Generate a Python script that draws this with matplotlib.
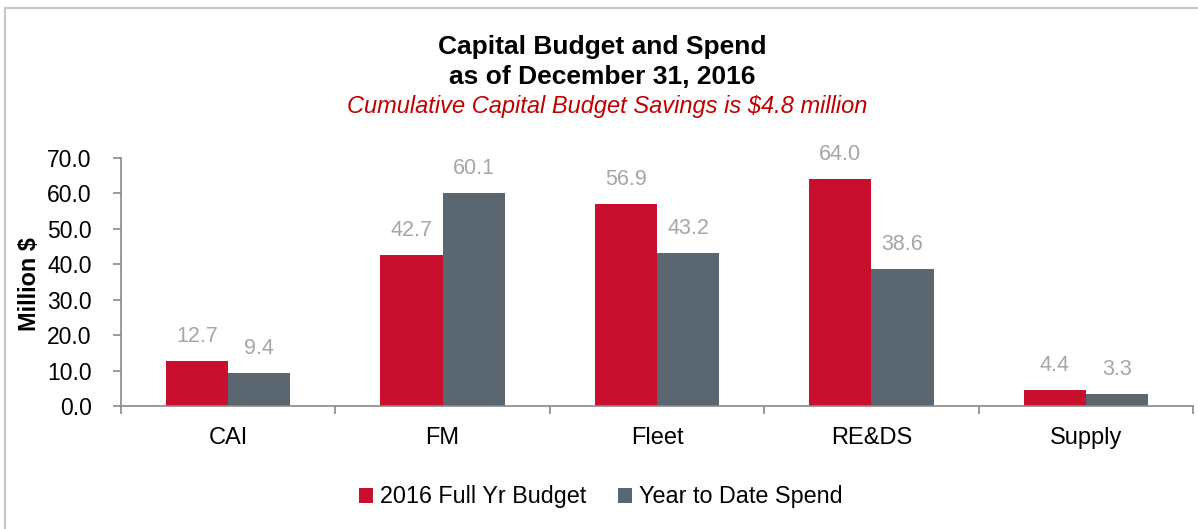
import matplotlib
matplotlib.use("Agg")
import matplotlib.pyplot as plt
import numpy as np
from matplotlib.patches import Rectangle

categories = ["CAI", "FM", "Fleet", "RE&DS", "Supply"]
budget = [12.7, 42.7, 56.9, 64.0, 4.4]
spend = [9.4, 60.1, 43.2, 38.6, 3.3]
series_names = ["2016 Full Yr Budget", "Year to Date Spend"]
yticks = [0, 10, 20, 30, 40, 50, 60, 70]

RED = "#c8102e"
GRAY = "#5a6770"
AXIS = "#898989"
LABEL = "#a6a6a6"

plt.rcParams["font.family"] = ["Liberation Sans", "DejaVu Sans"]

fig = plt.figure(figsize=(11.98, 5.29), dpi=100)
fig.patch.set_facecolor("white")

# outer frame
fig.add_artist(Rectangle((5 / 1198, -0.05), 1.1, 1 - 8 / 529 + 0.05,
                         transform=fig.transFigure, fill=False,
                         edgecolor="#c8c8c8", linewidth=1.6))

ax = fig.add_axes([121 / 1198, 1 - 406 / 529, (1193 - 121) / 1198, (406 - 158) / 529])

x = np.arange(len(categories))
w = 0.29
b1 = ax.bar(x - w / 2, budget, w, color=RED, label=series_names[0])
b2 = ax.bar(x + w / 2, spend, w, color=GRAY, label=series_names[1])

for bars, vals in ((b1, budget), (b2, spend)):
    for r, v in zip(bars, vals):
        ax.text(r.get_x() + r.get_width() / 2, v + 4.0, f"{v:.1f}",
                ha="center", va="bottom", color=LABEL, fontsize=15.5)

ax.set_xlim(-0.5, len(categories) - 0.5)
ax.set_ylim(0, 70)
ax.set_yticks(yticks)
ax.set_yticklabels([f"{t:.1f}" for t in yticks], fontsize=16.5)
ax.set_xticks(x)
ax.set_xticklabels(categories, fontsize=17)
ax.tick_params(axis="x", length=0, pad=15)
ax.tick_params(axis="y", length=6, color=AXIS, width=1.2, pad=15)
ax.set_xticks(np.arange(-0.5, len(categories) + 0.5, 1), minor=True)
ax.tick_params(axis="x", which="minor", length=6, color=AXIS, width=1.2)

for s in ("top", "right"):
    ax.spines[s].set_visible(False)
for s in ("left", "bottom"):
    ax.spines[s].set_color(AXIS)
    ax.spines[s].set_linewidth(1.2)

ax.set_ylabel("Million $", fontsize=16.8, fontweight="bold")
ax.yaxis.set_label_coords(-0.0745, 0.49)

fig.text(0.503, 1 - 47 / 529, "Capital Budget and Spend", ha="center", va="center",
         fontsize=19, fontweight="bold")
fig.text(0.503, 1 - 77 / 529, "as of December 31, 2016", ha="center", va="center",
         fontsize=19, fontweight="bold")
fig.text(0.507, 1 - 106 / 529, "Cumulative Capital Budget Savings is $4.8 million",
         ha="center", va="center", fontsize=17, style="italic", color="#c00000")

fig.legend(handles=[b1, b2], labels=series_names, loc="center",
           bbox_to_anchor=(601 / 1198, 1 - 497 / 529), ncol=2, frameon=False,
           fontsize=16.8, handlelength=0.6, handleheight=0.6, handletextpad=0.3,
           columnspacing=1.35)

fig.savefig("out.png", dpi=100, facecolor="white")
